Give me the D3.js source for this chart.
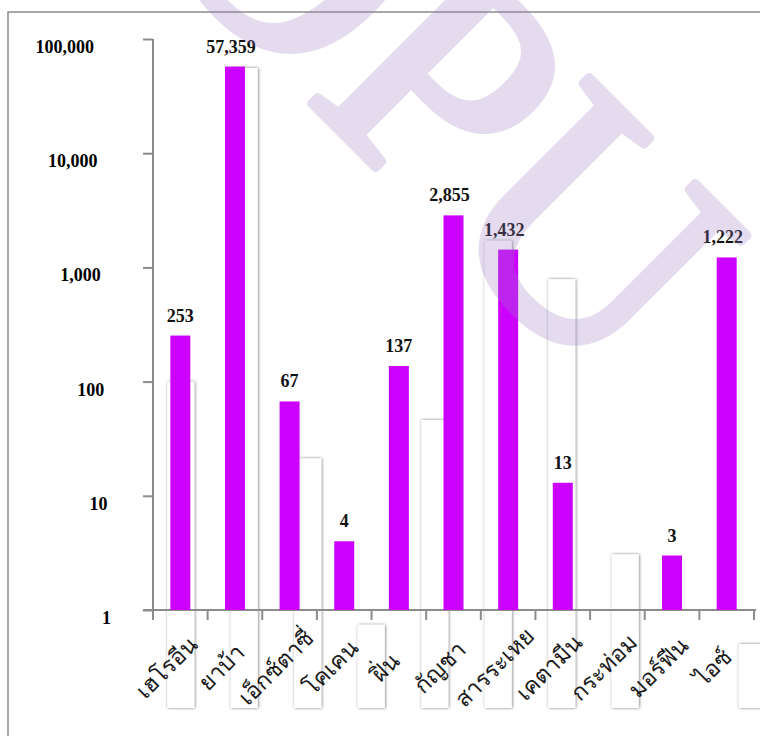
<!DOCTYPE html>
<html>
<head>
<meta charset="utf-8">
<script src="https://cdn.jsdelivr.net/npm/d3@7"></script>
<style>
  body { margin: 0; background: #fff; }
  svg { display: block; }
</style>
</head>
<body>
<div id="chart"></div>
<script>
const categories = [
  "เฮโรอีน", "ยาบ้า", "เอ็กซ์ตาซี่", "โคเคน", "ฝิ่น", "กัญชา",
  "สารระเหย", "เคตามีน", "กระท่อม", "มอร์ฟีน", "ไอซ์"
];
const values = [253, 57359, 67, 4, 137, 2855, 1432, 13, null, 3, 1222];
const yTicks = [1, 10, 100, 1000, 10000, 100000];

// pale columns left behind the bars in the original image
const shadowValues = [51, 100, 39, 13, 45, 73, 67, 24, 0, 10];

const width = 760;
const height = 736;
const axisColor = "#8c8c8c";
const serif = "'Liberation Serif', 'Times New Roman', serif";
const thai = "Tahoma, Loma, Garuda, 'Noto Sans Thai Looped', 'Noto Sans Thai', 'Noto Sans', sans-serif";

const svg = d3
  .select("#chart")
  .append("svg")
  .attr("width", width)
  .attr("height", height);

const defs = svg.append("defs");
defs
  .append("filter")
  .attr("id", "soft")
  .attr("x", "-40%")
  .attr("width", "180%")
  .append("feDropShadow")
  .attr("dx", 0.6)
  .attr("dy", 0)
  .attr("stdDeviation", 1.6)
  .attr("flood-color", "#000")
  .attr("flood-opacity", 0.55);

// frame
svg
  .append("rect")
  .attr("x", 8)
  .attr("y", 12)
  .attr("width", 900)
  .attr("height", 900)
  .attr("fill", "#fff")
  .attr("stroke", axisColor)
  .attr("stroke-width", 1.5);

const x = d3.scaleBand().domain(categories).range([153, 754]);
const y = d3.scaleLog().domain([1, 100000]).range([610, 39]);

// shadow layer
const xs = d3.scaleBand().domain(d3.range(shadowValues.length)).range([149, 784]);
const ys = d3.scaleLinear().domain([0, 100]).range([708, 68]);
const shadowW = 27;

svg
  .append("g")
  .selectAll("rect")
  .data(shadowValues.map((v, i) => ({ i, v })).filter((d) => d.v > 0))
  .enter()
  .append("rect")
  .attr("x", (d) => xs(d.i) + (xs.bandwidth() - shadowW) / 2)
  .attr("y", (d) => ys(d.v))
  .attr("width", shadowW)
  .attr("height", (d) => ys(0) - ys(d.v))
  .attr("fill", "#fff")
  .attr("filter", "url(#soft)");

// y axis
const yAxis = svg
  .append("g")
  .attr("transform", "translate(153,0)")
  .call(
    d3
      .axisLeft(y)
      .tickValues(yTicks)
      .tickFormat(d3.format(","))
      .tickSize(10)
      .tickSizeOuter(0)
  );

yAxis.select(".domain").attr("stroke", axisColor).attr("stroke-width", 2).attr("d", "M0,39V620");
yAxis.selectAll(".tick line").attr("stroke", axisColor).attr("stroke-width", 2);
yAxis
  .selectAll(".tick text")
  .attr("x", (d) => -(42 + 3.4 * Math.log10(d)))
  .attr("dy", "0.75em")
  .attr("fill", "#000")
  .style("font-family", serif)
  .style("font-size", "18px")
  .style("font-weight", "bold");

// x axis
const xAxis = svg
  .append("g")
  .attr("transform", "translate(0,610)")
  .call(d3.axisBottom(x).tickSize(0).tickFormat(""));

xAxis.select(".domain").attr("stroke", axisColor).attr("stroke-width", 2).attr("d", "M143,0H756");
xAxis.selectAll(".tick").remove();

const bounds = categories.map((d) => x(d)).concat([x.range()[1]]);
xAxis
  .selectAll(".bound")
  .data(bounds)
  .enter()
  .append("line")
  .attr("class", "bound")
  .attr("x1", (d) => d)
  .attr("x2", (d) => d)
  .attr("y1", 0)
  .attr("y2", 10)
  .attr("stroke", axisColor)
  .attr("stroke-width", 2);

svg
  .append("g")
  .selectAll("text")
  .data(categories)
  .enter()
  .append("text")
  .attr(
    "transform",
    (d) => `translate(${x(d) + x.bandwidth() / 2 - 8},673) rotate(-45)`
  )
  .attr("text-anchor", "middle")
  .style("font-family", thai)
  .style("font-size", "23px")
  .attr("fill", "#1a1a1a")
  .text((d) => d);

// bars
const barW = 20;
const barData = categories
  .map((name, i) => ({ name, value: values[i] }))
  .filter((d) => d.value);

svg
  .append("g")
  .selectAll(".bar")
  .data(barData)
  .enter()
  .append("rect")
  .attr("class", "bar")
  .attr("x", (d) => x(d.name) + (x.bandwidth() - barW) / 2)
  .attr("y", (d) => y(d.value))
  .attr("width", barW)
  .attr("height", (d) => y(1) - y(d.value))
  .attr("fill", "#cc00ff");

svg
  .append("g")
  .selectAll("text")
  .data(barData)
  .enter()
  .append("text")
  .attr("x", (d) => x(d.name) + x.bandwidth() / 2 - (d.value >= 1000 ? 4 : 0))
  .attr("y", (d) => y(d.value) - 14)
  .attr("text-anchor", "middle")
  .style("font-family", serif)
  .style("font-size", "18px")
  .style("font-weight", "bold")
  .attr("fill", "#111")
  .text((d) => d3.format(",")(d.value));

// watermark
svg
  .append("text")
  .attr("transform", "translate(136,-72) rotate(45)")
  .style("font-family", serif)
  .style("font-size", "328px")
  .attr("fill", "#9d80c4")
  .attr("stroke", "#9d80c4")
  .attr("stroke-width", 9)
  .attr("stroke-linejoin", "round")
  .attr("opacity", 0.27)
  .text("OPU");
</script>
</body>
</html>
